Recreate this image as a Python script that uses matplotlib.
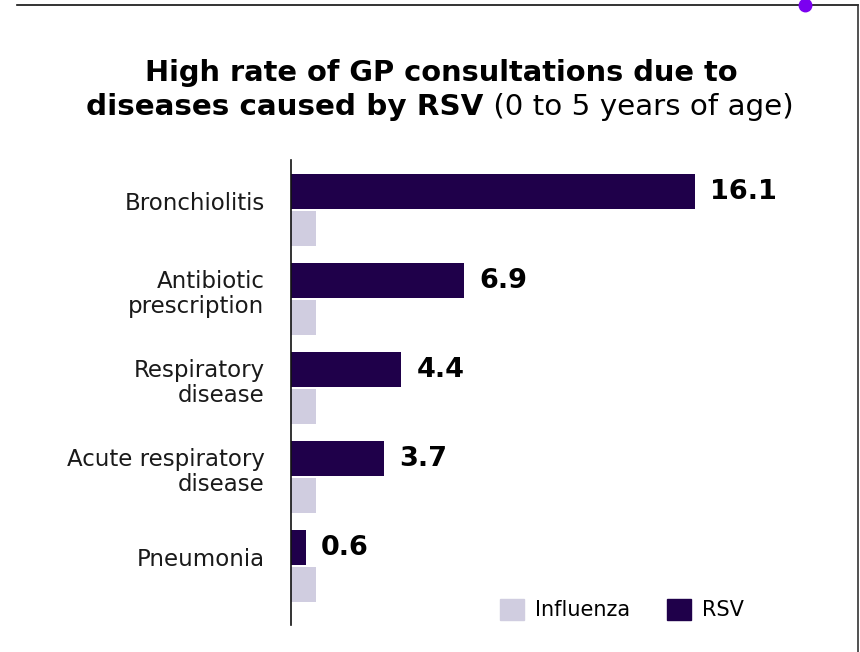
import matplotlib.pyplot as plt
from matplotlib.lines import Line2D
from matplotlib.patches import Patch

# GP consultation rates, children 0-5 years
categories = ["Bronchiolitis", "Antibiotic\nprescription", "Respiratory\ndisease",
              "Acute respiratory\ndisease", "Pneumonia"]
rsv = [16.1, 6.9, 4.4, 3.7, 0.6]
influenza = [1.0, 1.0, 1.0, 1.0, 1.0]

RSV_COLOR = "#1f004a"
FLU_COLOR = "#d0cde0"

plt.rcParams["font.family"] = ["DejaVu Sans"]

fig = plt.figure(figsize=(8.6, 6.52), dpi=100)
W, H = 860, 652

ax = fig.add_axes([291 / W, 1 - 625 / H, 560 / W, 465 / H])

pos = list(range(len(categories)))
h = 0.39
off = 0.205
ax.barh([p - off for p in pos], rsv, height=h, color=RSV_COLOR)
ax.barh([p + off for p in pos], influenza, height=h, color=FLU_COLOR)

for p, v in zip(pos, rsv):
    ax.text(v + 0.6, p - off, f"{v}", va="center", ha="left",
            fontsize=19.5, fontweight="bold", color="black")

ax.set_ylim(4.663, -0.562)
ax.set_xlim(0, 22.3)
ax.set_yticks([p - 0.1 for p in pos])
ax.set_yticklabels(categories, fontsize=16.5, ha="right", multialignment="right",
                   linespacing=1.12, color="#1a1a1a")
ax.tick_params(axis="y", length=0, pad=19)
ax.set_xticks([])
for s in ["top", "right", "bottom"]:
    ax.spines[s].set_visible(False)
ax.spines["left"].set_linewidth(1.2)
ax.spines["left"].set_color("#111111")

handles = [Patch(color=FLU_COLOR, label="Influenza"), Patch(color=RSV_COLOR, label="RSV")]
ax.legend(handles=handles, loc="lower right", bbox_to_anchor=(461 / 560, -0.008), ncol=2,
          frameon=False, fontsize=15, handlelength=1.15, handleheight=1.15,
          handletextpad=0.5, columnspacing=1.8, borderaxespad=0)

# title, second line mixes bold and regular text
fig.text(441.5 / W, 1 - 73 / H, "High rate of GP consultations due to", ha="center",
         va="center", fontsize=20.8, fontweight="bold")
t1 = fig.text(0, 1 - 107 / H, "diseases caused by RSV", ha="left", va="center",
              fontsize=21.2, fontweight="bold")
t2 = fig.text(0, 1 - 107 / H, " (0 to 5 years of age)", ha="left", va="center",
              fontsize=21.2)
fig.canvas.draw()
r = fig.canvas.get_renderer()
w1 = t1.get_window_extent(r).width
w2 = t2.get_window_extent(r).width
x0 = 440 - (w1 + w2) / 2
t1.set_x(x0 / W)
t2.set_x((x0 + w1) / W)

# frame lines and marker dot
fig.add_artist(Line2D([17 / W, 858 / W], [1 - 5 / H, 1 - 5 / H], color="#111111", lw=1.2))
fig.add_artist(Line2D([858 / W, 858 / W], [1 - 5 / H, 0], color="#333333", lw=1.2))
fig.add_artist(Line2D([805 / W], [1 - 5 / H], marker="o", markersize=9,
                      color="#7b00f0", lw=0))

fig.savefig("out.png", dpi=100)
